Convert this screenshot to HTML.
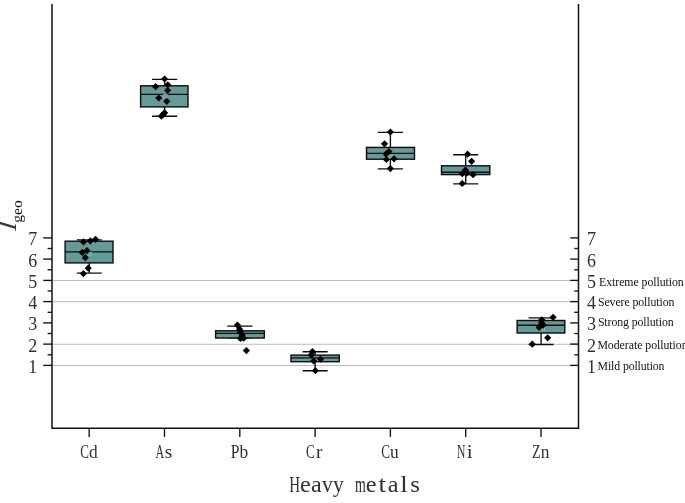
<!DOCTYPE html>
<html><head><meta charset="utf-8"><title>Igeo of heavy metals</title>
<style>html,body{margin:0;padding:0;background:#fff;overflow:hidden}svg{display:block}text{font-family:"Liberation Serif",serif;fill:#111}.ax{stroke:#111;stroke-width:1.5;fill:none;stroke-linecap:square}.tk{stroke:#111;stroke-width:1.35;fill:none}.gr{stroke:#bdbdbd;stroke-width:1;fill:none}.bx{fill:#659a9b;stroke:#0c0c0c;stroke-width:1.4}.wl{stroke:#0c0c0c;stroke-width:1.35;fill:none}.d{fill:#000}.mo{fill:#303030}.mn{fill:#68a0a1;stroke:#98babb;stroke-width:0.6}</style></head><body>
<svg width="685" height="503" viewBox="0 0 685 503">
<title>Box plot of Igeo for Heavy metals</title>
<desc>Heavy metals: Cd As Pb Cr Cu Ni Zn. I geo axis 1 2 3 4 5 6 7. 1 Mild pollution, 2 Moderate pollution, 3 Strong pollution, 4 Severe pollution, 5 Extreme pollution.</desc>
<rect width="685" height="503" fill="#fff"/>
<line class="gr" x1="52.0" x2="578.5" y1="365.50" y2="365.50"/>
<line class="gr" x1="52.0" x2="578.5" y1="344.25" y2="344.25"/>
<line class="gr" x1="52.0" x2="578.5" y1="301.75" y2="301.75"/>
<line class="gr" x1="52.0" x2="578.5" y1="280.50" y2="280.50"/>
<path class="wl" d="M89.3 239.9V241.2M89.3 262.9V273.1M76.8 239.9H101.8M76.8 273.1H101.8"/>
<rect class="bx" x="65.1" y="241.2" width="47.9" height="21.7"/>
<line class="wl" x1="65.1" x2="113.0" y1="251.9" y2="251.9"/>
<rect class="mn" x="88.1" y="252.2" width="3.6" height="3.6"/>
<path class="d" d="M83.5 238.3L87.1 241.9L83.5 245.5L79.9 241.9Z"/>
<path class="d" d="M90.4 237.3L94.0 240.9L90.4 244.5L86.8 240.9Z"/>
<path class="d" d="M95.5 235.7L99.1 239.3L95.5 242.9L91.9 239.3Z"/>
<path class="d" d="M82.3 248.8L85.9 252.4L82.3 256.0L78.7 252.4Z"/>
<path class="d" d="M87.0 247.1L90.6 250.7L87.0 254.3L83.4 250.7Z"/>
<path class="d" d="M85.3 254.1L88.9 257.7L85.3 261.3L81.7 257.7Z"/>
<path class="d" d="M88.2 264.6L91.8 268.2L88.2 271.8L84.6 268.2Z"/>
<path class="d" d="M83.4 270.0L87.0 273.6L83.4 277.2L79.8 273.6Z"/>
<path class="wl" d="M164.6 79.3V85.8M164.6 106.9V116.2M152.0 79.3H177.2M152.0 116.2H177.2"/>
<rect class="bx" x="140.6" y="85.8" width="47.4" height="21.1"/>
<line class="wl" x1="140.6" x2="188.0" y1="94.3" y2="94.3"/>
<rect class="mn" x="163.6" y="94.2" width="3.6" height="3.6"/>
<path class="d" d="M164.6 75.4L168.2 79.0L164.6 82.6L161.0 79.0Z"/>
<path class="d" d="M155.6 83.1L159.2 86.7L155.6 90.3L152.0 86.7Z"/>
<path class="d" d="M167.8 81.2L171.4 84.8L167.8 88.4L164.2 84.8Z"/>
<path class="d" d="M167.6 86.8L171.2 90.4L167.6 94.0L164.0 90.4Z"/>
<path class="d" d="M158.8 94.4L162.4 98.0L158.8 101.6L155.2 98.0Z"/>
<path class="d" d="M166.8 97.7L170.4 101.3L166.8 104.9L163.2 101.3Z"/>
<path class="d" d="M164.6 109.2L168.2 112.8L164.6 116.4L161.0 112.8Z"/>
<path class="d" d="M163.2 110.7L166.8 114.3L163.2 117.9L159.6 114.3Z"/>
<path class="d" d="M161.4 112.6L165.0 116.2L161.4 119.8L157.8 116.2Z"/>
<path class="wl" d="M239.9 326.1V330.8M239.9 338.0V337.9M227.3 326.1H252.5M227.3 337.9H252.5"/>
<rect class="bx" x="215.6" y="330.8" width="48.7" height="7.2"/>
<line class="wl" x1="215.6" x2="264.3" y1="333.4" y2="333.4"/>
<path class="d" d="M237.4 321.5L241.0 325.1L237.4 328.7L233.8 325.1Z"/>
<path class="d" d="M239.6 325.6L243.2 329.2L239.6 332.8L236.0 329.2Z"/>
<path class="d" d="M240.4 328.5L244.0 332.1L240.4 335.7L236.8 332.1Z"/>
<path class="d" d="M242.2 331.7L245.8 335.3L242.2 338.9L238.6 335.3Z"/>
<path class="d" d="M240.5 334.8L244.1 338.4L240.5 342.0L236.9 338.4Z"/>
<path class="d" d="M243.6 334.6L247.2 338.2L243.6 341.8L240.0 338.2Z"/>
<path class="d" d="M246.4 347.0L250.0 350.6L246.4 354.2L242.8 350.6Z"/>
<path class="wl" d="M315.1 351.7V355.1M315.1 361.7V370.7M302.6 351.7H327.7M302.6 370.7H327.7"/>
<rect class="bx" x="291.0" y="355.1" width="48.3" height="6.6"/>
<line class="wl" x1="291.0" x2="339.3" y1="357.9" y2="357.9"/>
<path class="d" d="M312.4 348.0L316.0 351.6L312.4 355.2L308.8 351.6Z"/>
<path class="d" d="M311.3 351.3L314.9 354.9L311.3 358.5L307.7 354.9Z"/>
<path class="d" d="M313.6 357.4L317.2 361.0L313.6 364.6L310.0 361.0Z"/>
<path class="d" d="M320.5 355.5L324.1 359.1L320.5 362.7L316.9 359.1Z"/>
<path class="d" d="M315.4 367.1L319.0 370.7L315.4 374.3L311.8 370.7Z"/>
<path class="wl" d="M390.4 132.4V147.4M390.4 159.2V168.9M377.8 132.4H402.9M377.8 168.9H402.9"/>
<rect class="bx" x="366.5" y="147.4" width="48.0" height="11.8"/>
<line class="wl" x1="366.5" x2="414.5" y1="153.4" y2="153.4"/>
<rect class="mn" x="388.8" y="155.0" width="3.6" height="3.6"/>
<path class="d" d="M390.4 128.5L394.0 132.1L390.4 135.7L386.8 132.1Z"/>
<path class="d" d="M384.5 140.2L388.1 143.8L384.5 147.4L380.9 143.8Z"/>
<path class="d" d="M388.9 147.9L392.5 151.5L388.9 155.1L385.3 151.5Z"/>
<path class="d" d="M386.0 150.5L389.6 154.1L386.0 157.7L382.4 154.1Z"/>
<path class="d" d="M386.4 155.9L390.0 159.5L386.4 163.1L382.8 159.5Z"/>
<path class="d" d="M394.0 155.2L397.6 158.8L394.0 162.4L390.4 158.8Z"/>
<path class="d" d="M390.4 165.0L394.0 168.6L390.4 172.2L386.8 168.6Z"/>
<path class="wl" d="M465.7 154.7V165.8M465.7 174.6V183.8M453.1 154.7H478.2M453.1 183.8H478.2"/>
<rect class="bx" x="441.5" y="165.8" width="48.3" height="8.8"/>
<line class="wl" x1="441.5" x2="489.8" y1="172.2" y2="172.2"/>
<path class="d" d="M467.6 150.6L471.2 154.2L467.6 157.8L464.0 154.2Z"/>
<path class="d" d="M471.6 157.7L475.2 161.3L471.6 164.9L468.0 161.3Z"/>
<path class="d" d="M465.4 166.4L469.0 170.0L465.4 173.6L461.8 170.0Z"/>
<path class="d" d="M462.4 170.1L466.0 173.7L462.4 177.3L458.8 173.7Z"/>
<path class="d" d="M466.8 169.6L470.4 173.2L466.8 176.8L463.2 173.2Z"/>
<path class="d" d="M473.1 171.1L476.7 174.7L473.1 178.3L469.5 174.7Z"/>
<path class="d" d="M462.2 179.9L465.8 183.5L462.2 187.1L458.6 183.5Z"/>
<path class="wl" d="M541.1 317.9V320.5M541.1 333.0V344.5M528.6 317.9H553.6M528.6 344.5H553.6"/>
<rect class="bx" x="517.1" y="320.5" width="47.7" height="12.5"/>
<line class="wl" x1="517.1" x2="564.8" y1="325.2" y2="325.2"/>
<rect class="mn" x="541.0" y="327.1" width="3.6" height="3.6"/>
<path class="d" d="M553.1 313.7L556.7 317.3L553.1 320.9L549.5 317.3Z"/>
<path class="d" d="M541.8 316.2L545.4 319.8L541.8 323.4L538.2 319.8Z"/>
<path class="d" d="M541.4 319.1L545.0 322.7L541.4 326.3L537.8 322.7Z"/>
<path class="d" d="M543.3 321.3L546.9 324.9L543.3 328.5L539.7 324.9Z"/>
<path class="d" d="M539.2 323.8L542.8 327.4L539.2 331.0L535.6 327.4Z"/>
<path class="d" d="M547.7 334.2L551.3 337.8L547.7 341.4L544.1 337.8Z"/>
<path class="d" d="M532.3 340.6L535.9 344.2L532.3 347.8L528.7 344.2Z"/>
<path class="ax" d="M52.0 4.7V428.3H578.5V4.7"/>
<line class="tk" x1="43.2" x2="52.0" y1="365.4" y2="365.4"/>
<line class="tk" x1="570.2" x2="578.5" y1="365.4" y2="365.4"/>
<line class="tk" x1="43.2" x2="52.0" y1="344.1" y2="344.1"/>
<line class="tk" x1="570.2" x2="578.5" y1="344.1" y2="344.1"/>
<line class="tk" x1="43.2" x2="52.0" y1="322.9" y2="322.9"/>
<line class="tk" x1="570.2" x2="578.5" y1="322.9" y2="322.9"/>
<line class="tk" x1="43.2" x2="52.0" y1="301.6" y2="301.6"/>
<line class="tk" x1="570.2" x2="578.5" y1="301.6" y2="301.6"/>
<line class="tk" x1="43.2" x2="52.0" y1="280.4" y2="280.4"/>
<line class="tk" x1="570.2" x2="578.5" y1="280.4" y2="280.4"/>
<line class="tk" x1="43.2" x2="52.0" y1="259.1" y2="259.1"/>
<line class="tk" x1="570.2" x2="578.5" y1="259.1" y2="259.1"/>
<line class="tk" x1="43.2" x2="52.0" y1="237.9" y2="237.9"/>
<line class="tk" x1="570.2" x2="578.5" y1="237.9" y2="237.9"/>
<line class="tk" x1="47.6" x2="52.0" y1="354.8" y2="354.8"/>
<line class="tk" x1="574.3" x2="578.5" y1="354.8" y2="354.8"/>
<line class="tk" x1="47.6" x2="52.0" y1="333.5" y2="333.5"/>
<line class="tk" x1="574.3" x2="578.5" y1="333.5" y2="333.5"/>
<line class="tk" x1="47.6" x2="52.0" y1="312.3" y2="312.3"/>
<line class="tk" x1="574.3" x2="578.5" y1="312.3" y2="312.3"/>
<line class="tk" x1="47.6" x2="52.0" y1="291.0" y2="291.0"/>
<line class="tk" x1="574.3" x2="578.5" y1="291.0" y2="291.0"/>
<line class="tk" x1="47.6" x2="52.0" y1="269.8" y2="269.8"/>
<line class="tk" x1="574.3" x2="578.5" y1="269.8" y2="269.8"/>
<line class="tk" x1="47.6" x2="52.0" y1="248.5" y2="248.5"/>
<line class="tk" x1="574.3" x2="578.5" y1="248.5" y2="248.5"/>
<line class="tk" x1="89.2" x2="89.2" y1="428.3" y2="436.9"/>
<text class="mo" y="458.0" font-size="18.5"><tspan x="80.18" textLength="8.70" lengthAdjust="spacingAndGlyphs">C</tspan><tspan x="88.93" textLength="8.70" lengthAdjust="spacingAndGlyphs">d</tspan></text>
<line class="tk" x1="164.5" x2="164.5" y1="428.3" y2="436.9"/>
<text class="mo" y="458.0" font-size="18.5"><tspan x="155.47" textLength="8.70" lengthAdjust="spacingAndGlyphs">A</tspan><tspan x="164.80" textLength="7.56" lengthAdjust="spacingAndGlyphs">s</tspan></text>
<line class="tk" x1="239.8" x2="239.8" y1="428.3" y2="436.9"/>
<text class="mo" y="458.0" font-size="18.5"><tspan x="230.78" textLength="8.70" lengthAdjust="spacingAndGlyphs">P</tspan><tspan x="239.53" textLength="8.70" lengthAdjust="spacingAndGlyphs">b</tspan></text>
<line class="tk" x1="315.1" x2="315.1" y1="428.3" y2="436.9"/>
<text class="mo" y="458.0" font-size="18.5"><tspan x="306.07" textLength="8.70" lengthAdjust="spacingAndGlyphs">C</tspan><tspan x="315.94" textLength="6.47" lengthAdjust="spacingAndGlyphs">r</tspan></text>
<line class="tk" x1="390.4" x2="390.4" y1="428.3" y2="436.9"/>
<text class="mo" y="458.0" font-size="18.5"><tspan x="381.37" textLength="8.70" lengthAdjust="spacingAndGlyphs">C</tspan><tspan x="390.12" textLength="8.70" lengthAdjust="spacingAndGlyphs">u</tspan></text>
<line class="tk" x1="465.7" x2="465.7" y1="428.3" y2="436.9"/>
<text class="mo" y="458.0" font-size="18.5"><tspan x="456.67" textLength="8.70" lengthAdjust="spacingAndGlyphs">N</tspan><tspan x="466.80" textLength="5.95" lengthAdjust="spacingAndGlyphs">i</tspan></text>
<line class="tk" x1="541.0" x2="541.0" y1="428.3" y2="436.9"/>
<text class="mo" y="458.0" font-size="18.5"><tspan x="531.98" textLength="8.70" lengthAdjust="spacingAndGlyphs">Z</tspan><tspan x="540.73" textLength="8.70" lengthAdjust="spacingAndGlyphs">n</tspan></text>
<text class="mo" y="372.8" font-size="19"><tspan x="28.25" textLength="9.00" lengthAdjust="spacingAndGlyphs">1</tspan></text>
<text class="mo" y="372.8" font-size="19"><tspan x="586.95" textLength="9.00" lengthAdjust="spacingAndGlyphs">1</tspan></text>
<text class="mo" y="351.5" font-size="19"><tspan x="28.25" textLength="9.00" lengthAdjust="spacingAndGlyphs">2</tspan></text>
<text class="mo" y="351.5" font-size="19"><tspan x="586.95" textLength="9.00" lengthAdjust="spacingAndGlyphs">2</tspan></text>
<text class="mo" y="330.3" font-size="19"><tspan x="28.25" textLength="9.00" lengthAdjust="spacingAndGlyphs">3</tspan></text>
<text class="mo" y="330.3" font-size="19"><tspan x="586.95" textLength="9.00" lengthAdjust="spacingAndGlyphs">3</tspan></text>
<text class="mo" y="309.0" font-size="19"><tspan x="28.25" textLength="9.00" lengthAdjust="spacingAndGlyphs">4</tspan></text>
<text class="mo" y="309.0" font-size="19"><tspan x="586.95" textLength="9.00" lengthAdjust="spacingAndGlyphs">4</tspan></text>
<text class="mo" y="287.8" font-size="19"><tspan x="28.25" textLength="9.00" lengthAdjust="spacingAndGlyphs">5</tspan></text>
<text class="mo" y="287.8" font-size="19"><tspan x="586.95" textLength="9.00" lengthAdjust="spacingAndGlyphs">5</tspan></text>
<text class="mo" y="266.5" font-size="19"><tspan x="28.25" textLength="9.00" lengthAdjust="spacingAndGlyphs">6</tspan></text>
<text class="mo" y="266.5" font-size="19"><tspan x="586.95" textLength="9.00" lengthAdjust="spacingAndGlyphs">6</tspan></text>
<text class="mo" y="245.3" font-size="19"><tspan x="28.25" textLength="9.00" lengthAdjust="spacingAndGlyphs">7</tspan></text>
<text class="mo" y="245.3" font-size="19"><tspan x="586.95" textLength="9.00" lengthAdjust="spacingAndGlyphs">7</tspan></text>
<text x="599.1" y="285.8" font-size="11.8" textLength="84.6" lengthAdjust="spacing">Extreme pollution</text>
<text x="597.9" y="305.7" font-size="11.8" textLength="76.6" lengthAdjust="spacing">Severe pollution</text>
<text x="597.9" y="325.6" font-size="11.8" textLength="75.7" lengthAdjust="spacing">Strong pollution</text>
<text x="597.4" y="348.9" font-size="11.8" textLength="90.2" lengthAdjust="spacing">Moderate pollution</text>
<text x="597.6" y="370.1" font-size="11.8" textLength="66.9" lengthAdjust="spacing">Mild pollution</text>
<text class="mo" y="491.6" font-size="23"><tspan x="289.18" textLength="10.80" lengthAdjust="spacingAndGlyphs">H</tspan><tspan x="300.12" textLength="10.80" lengthAdjust="spacingAndGlyphs">e</tspan><tspan x="311.07" textLength="10.80" lengthAdjust="spacingAndGlyphs">a</tspan><tspan x="322.03" textLength="10.80" lengthAdjust="spacingAndGlyphs">v</tspan><tspan x="332.98" textLength="10.80" lengthAdjust="spacingAndGlyphs">y</tspan> <tspan x="354.88" textLength="10.80" lengthAdjust="spacingAndGlyphs">m</tspan><tspan x="365.82" textLength="10.80" lengthAdjust="spacingAndGlyphs">e</tspan><tspan x="378.45" textLength="7.45" lengthAdjust="spacingAndGlyphs">t</tspan><tspan x="387.73" textLength="10.80" lengthAdjust="spacingAndGlyphs">a</tspan><tspan x="400.35" textLength="7.45" lengthAdjust="spacingAndGlyphs">l</tspan><tspan x="410.19" textLength="9.67" lengthAdjust="spacingAndGlyphs">s</tspan></text>
<text transform="translate(16 231.0) rotate(-90) skewX(-7)" font-size="26" font-style="italic" style="fill:#3a3a3a">I</text>
<text transform="translate(21.9 222.7) rotate(-90)" font-size="15.5" textLength="22.4" lengthAdjust="spacingAndGlyphs">geo</text>
</svg></body></html>
